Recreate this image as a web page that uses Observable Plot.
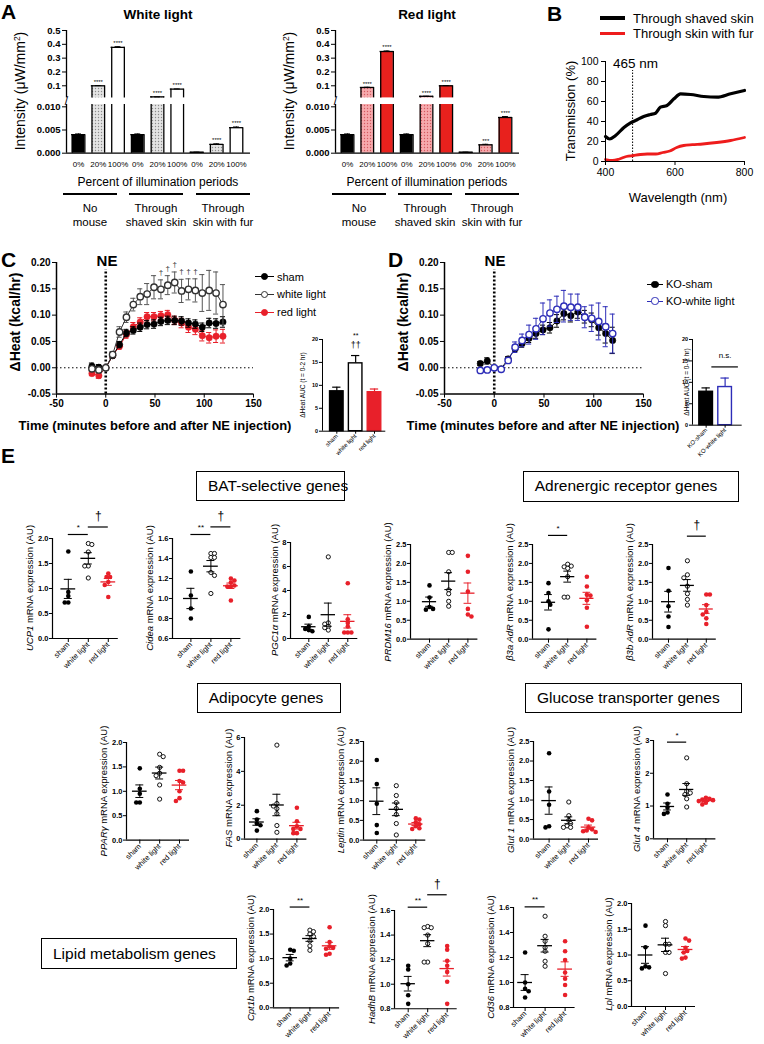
<!DOCTYPE html>
<html>
<head>
<meta charset="utf-8">
<script src="https://cdn.jsdelivr.net/npm/d3@7"></script>
<script src="https://cdn.jsdelivr.net/npm/@observablehq/plot@0.6"></script>
<style>
  html, body { margin: 0; padding: 0; background: #fff; }
  #root { position: relative; width: 764px; height: 1044px; overflow: hidden; background: #fff;
          font-family: "Liberation Sans", Arial, Helvetica, sans-serif; color: #000; }
  .t { position: absolute; white-space: nowrap; line-height: 1; }
  .box { position: absolute; border: 1.5px solid #000; box-sizing: border-box; font-size: 15.5px;
         display: flex; align-items: center; padding-left: 11px; white-space: nowrap; line-height: 1; }
  .ln { position: absolute; }
  sup { font-size: 0.6em; line-height: 0; vertical-align: 0.6em; }
</style>
</head>
<body>
<div id="root"></div>
<script>
// ======================= DATA =======================
// Panel A : light intensity (µW/mm²)
const pctLabels = ["0%", "20%", "100%", "0%", "20%", "100%", "0%", "20%", "100%"];
const groupNamesA = [["No", "mouse"], ["Through", "shaved skin"], ["Through", "skin with fur"]];
const whiteIntensity = [0.004, 0.1, 0.378, 0.004, 0.02, 0.076, 0.0002, 0.0019, 0.0055];
const whiteErr = [0.00015, 0.0015, 0.005, 0.00015, 0.0004, 0.0015, 0.00003, 0.00012, 0.00015];
const whiteStars = ["", "****", "****", "", "****", "****", "", "****", "****"];
const redIntensity = [0.004, 0.088, 0.348, 0.004, 0.024, 0.1, 0.0002, 0.0018, 0.0077];
const redErr = [0.00015, 0.0015, 0.004, 0.00015, 0.0005, 0.0015, 0.00003, 0.00012, 0.0002];
const redStars = ["", "****", "****", "", "****", "****", "", "***", "****"];

// Panel B : transmission (%)
const shavedNm = [400, 412, 429, 453, 472, 491, 510, 529, 544, 558, 577, 597, 616, 645, 683, 721, 760, 800];
const shavedT = [25, 22.5, 26, 34, 38.7, 41.7, 45, 47, 48.3, 54.3, 56, 62.7, 67.7, 67, 65, 64.3, 67.7, 71];
const furNm = [400, 420, 440, 460, 480, 500, 520, 545, 565, 585, 605, 625, 650, 680, 720, 760, 800];
const furT = [2, 1, 2.5, 5, 6, 7, 7.5, 7.5, 9, 10.5, 14, 16, 16.8, 17.5, 19, 21, 24];
const markerNm = 478;

// Panels C / D : ΔHeat (kcal/hr)
const times = [-14, -7, 0, 7, 14, 21, 28, 35, 42, 49, 56, 63, 70, 77, 84, 91, 98, 105, 112, 119];
const cSham = [0.003, 0.001, 0, 0.023, 0.044, 0.066, 0.071, 0.077, 0.082, 0.083, 0.088, 0.090, 0.090, 0.089, 0.085, 0.083, 0.077, 0.085, 0.084, 0.087];
const cShamErr = [0.006, 0.005, 0.002, 0.005, 0.006, 0.007, 0.007, 0.008, 0.008, 0.008, 0.008, 0.008, 0.008, 0.008, 0.008, 0.008, 0.008, 0.009, 0.009, 0.01];
const cWhite = [-0.002, -0.004, 0, 0.025, 0.068, 0.096, 0.120, 0.135, 0.140, 0.153, 0.149, 0.157, 0.162, 0.146, 0.149, 0.147, 0.142, 0.147, 0.142, 0.120];
const cWhiteErr = [0.004, 0.005, 0.002, 0.006, 0.01, 0.01, 0.012, 0.015, 0.02, 0.022, 0.018, 0.018, 0.02, 0.022, 0.02, 0.022, 0.035, 0.038, 0.04, 0.038];
const cRed = [-0.011, -0.015, 0, 0.023, 0.041, 0.063, 0.078, 0.087, 0.097, 0.097, 0.099, 0.101, 0.090, 0.085, 0.077, 0.073, 0.061, 0.057, 0.060, 0.060];
const cRedErr = [0.004, 0.005, 0.002, 0.005, 0.006, 0.007, 0.008, 0.008, 0.008, 0.008, 0.008, 0.008, 0.008, 0.009, 0.01, 0.01, 0.01, 0.01, 0.012, 0.013];
const cDaggerTimes = [56, 63, 70, 77, 84, 91];
const dSham = [0.008, 0.013, 0, -0.002, 0.017, 0.036, 0.046, 0.056, 0.065, 0.072, 0.076, 0.089, 0.103, 0.099, 0.106, 0.097, 0.091, 0.076, 0.065, 0.052];
const dShamErr = [0.004, 0.006, 0.002, 0.003, 0.004, 0.006, 0.007, 0.008, 0.009, 0.009, 0.01, 0.012, 0.012, 0.012, 0.012, 0.012, 0.013, 0.014, 0.018, 0.025];
const dWhite = [-0.005, -0.004, 0, -0.003, 0.014, 0.039, 0.052, 0.063, 0.074, 0.093, 0.104, 0.111, 0.117, 0.115, 0.115, 0.096, 0.094, 0.088, 0.078, 0.065];
const dWhiteErr = [0.003, 0.003, 0.002, 0.003, 0.004, 0.01, 0.012, 0.018, 0.02, 0.03, 0.025, 0.025, 0.03, 0.025, 0.025, 0.02, 0.025, 0.035, 0.038, 0.037];

// AUC insets
const aucCatsC = ["sham", "white light", "red light"];
const aucC = [8.7, 14.8, 8.5];
const aucCErr = [0.9, 1.7, 0.7];
const aucCatsD = ["KO-sham", "KO-white light"];
const aucD = [7.8, 8.9];
const aucDErr = [0.9, 2.1];

// Panel E : mRNA expression (AU), individual animals per group [sham, white light, red light]
const groups = ["sham", "white light", "red light"];
const UCP1 = [[1.74, 0.93, 0.85, 0.72, 0.72], [1.9, 1.88, 1.73, 1.45, 1.45, 1.21], [1.3, 1.23, 1.23, 1.13, 1.07, 0.83]];
const Cidea = [[1.27, 1.03, 0.9, 0.8], [1.45, 1.45, 1.41, 1.41, 1.26, 1.23, 1.05], [1.2, 1.18, 1.16, 1.13, 1.12, 1.12, 0.98]];
const PGC1a = [[1.8, 1.0, 0.8, 0.7, 0.6], [6.8, 1.3, 1.2, 1.0, 0.9, 0.7], [4.6, 1.6, 1.3, 1.0, 0.5, 0.5, 0.5]];
const PRDM16 = [[1.42, 1.1, 0.85, 0.8, 0.78], [2.29, 2.29, 1.78, 1.3, 1.2, 1.0, 0.87], [2.2, 1.78, 1.26, 0.8, 0.65, 0.6]];
const B3a = [[1.48, 1.22, 1.0, 0.91, 0.26], [1.98, 1.93, 1.91, 1.87, 1.65, 1.11, 1.11], [1.65, 1.39, 1.17, 1.15, 1.03, 0.83, 0.33]];
const B3b = [[1.88, 1.28, 0.87, 0.6, 0.32], [2.07, 1.7, 1.62, 1.4, 1.2, 1.05, 0.9], [1.18, 1.18, 0.9, 0.72, 0.65, 0.55, 0.4]];
const PPARg = [[1.47, 1.05, 0.95, 0.77, 0.77], [1.76, 1.71, 1.49, 1.37, 1.32, 1.13, 0.84], [1.42, 1.42, 1.21, 1.18, 1.0, 0.86, 0.8]];
const FAS = [[1.65, 1.15, 0.92, 0.82, 0.5], [5.55, 2.1, 1.95, 1.8, 1.5, 0.8, 0.4], [1.85, 1.05, 0.75, 0.6, 0.6, 0.35, 0.35]];
const Leptin = [[2.03, 1.42, 0.92, 0.38, 0.18], [1.38, 1.13, 0.95, 0.8, 0.65, 0.42, 0.13], [0.55, 0.52, 0.45, 0.4, 0.35, 0.3, 0.28]];
const Glut1 = [[2.2, 1.22, 0.88, 0.33, 0.3], [0.95, 0.6, 0.48, 0.4, 0.34, 0.3, 0.3], [0.52, 0.48, 0.3, 0.25, 0.22, 0.2, 0.18]];
const Glut4 = [[1.35, 1.07, 0.95, 0.8, 0.76], [2.47, 1.68, 1.45, 1.4, 1.35, 1.22, 0.97], [1.25, 1.22, 1.2, 1.18, 1.15, 1.1, 1.05]];
const Cpt1b = [[1.18, 1.16, 1.0, 0.9, 0.86], [1.58, 1.55, 1.5, 1.45, 1.36, 1.26, 1.17], [1.64, 1.34, 1.25, 1.22, 1.2, 1.1, 1.08]];
const HadhB = [[1.15, 1.12, 1.0, 0.91, 0.84], [1.47, 1.46, 1.46, 1.4, 1.33, 1.18, 1.18], [1.31, 1.28, 1.19, 1.15, 1.1, 1.02, 0.84]];
const Cd36 = [[1.24, 1.0, 0.95, 0.93, 0.88], [1.53, 1.37, 1.33, 1.28, 1.25, 1.17, 1.13], [1.33, 1.25, 1.18, 1.08, 1.03, 0.98, 0.9]];
const Lpl = [[1.57, 1.15, 0.78, 0.76, 0.74], [1.65, 1.57, 1.21, 1.21, 1.05, 1.05, 0.64], [1.32, 1.28, 1.14, 1.08, 1.05, 0.95, 0.93]];

// ======================= HELPERS =======================
const root = document.getElementById("root");
const FONT = '"Liberation Sans", Arial, Helvetica, sans-serif';
const RED = "#e8202a", BLUE = "#2d2db8";

function txt(html, x, y, o = {}) {
  const d = document.createElement("div");
  d.className = "t";
  d.innerHTML = html;
  d.style.left = x + "px";
  d.style.top = y + "px";
  d.style.fontSize = (o.size || 12) + "px";
  d.style.fontWeight = o.bold ? "bold" : "normal";
  if (o.color) d.style.color = o.color;
  let tr = o.anchor === "start" ? "translate(0,-50%)" : "translate(-50%,-50%)";
  if (o.rotate) tr += ` rotate(${o.rotate}deg)`;
  d.style.transform = tr;
  root.appendChild(d);
  return d;
}
function hline(xa, xb, y, w = 1.3, color = "#000") {
  const d = document.createElement("div");
  d.className = "ln";
  Object.assign(d.style, {left: xa + "px", top: (y - w / 2) + "px", width: (xb - xa) + "px", height: w + "px", background: color});
  root.appendChild(d);
}
function circ(cx, cy, r, fill, stroke) {
  const d = document.createElement("div");
  d.className = "ln";
  Object.assign(d.style, {left: (cx - r) + "px", top: (cy - r) + "px", width: 2 * r + "px", height: 2 * r + "px",
    borderRadius: "50%", boxSizing: "border-box", background: fill, border: `1.3px solid ${stroke}`});
  root.appendChild(d);
}
function box(text, x, y, w, h) {
  const d = document.createElement("div");
  d.className = "box";
  Object.assign(d.style, {left: x + "px", top: y + "px", width: w + "px", height: h + "px"});
  d.textContent = text;
  root.appendChild(d);
}
function plotAt(frame, m, opts, css = {}) {
  const [x0, y0, x1, y1] = frame, [mt, mr, mb, ml] = m;
  const svg = Plot.plot({
    width: x1 - x0 + ml + mr, height: y1 - y0 + mt + mb,
    marginTop: mt, marginRight: mr, marginBottom: mb, marginLeft: ml,
    ...opts,
    style: Object.assign({fontFamily: FONT, background: "transparent", overflow: "visible", color: "#000"}, css)
  });
  Object.assign(svg.style, {position: "absolute", left: (x0 - ml) + "px", top: (y0 - mt) + "px", maxWidth: "none"});
  root.appendChild(svg);
  return svg;
}
function axisText(svg, axis, css) {
  svg.querySelectorAll(`g[aria-label="${axis}-axis"] text, g[aria-label="${axis}-axis tick label"] text`)
    .forEach(t => Object.assign(t.style, css));
}

// ======================= PANEL A (broken y axis: two stacked plots) =======================
function panelA(fx0, title, vals, errs, stars, fills, pat) {
  const fx1 = fx0 + 184;
  const xLo = -0.61, xHi = 8.71, bw = 0.32, ext = 0.033;
  const data = vals.map((v, i) => ({i, v, e: errs[i], s: stars[i]}));
  const segs = [
    {upper: true, y0: 30, y1: 97.4, dom: [0.0125, 0.5], ticks: [0.1, 0.2, 0.3, 0.4, 0.5], fmt: d => d.toFixed(1)},
    {upper: false, y0: 104, y1: 152.7, dom: [0, 0.0105], ticks: [0, 0.005, 0.01], fmt: d => d.toFixed(3)}
  ];
  segs.forEach(seg => {
    const sd = data.filter(d => !seg.upper || d.v > seg.dom[0])
      .map(d => ({...d, lo: seg.upper ? seg.dom[0] : 0, hi: Math.min(d.v, seg.dom[1]), top: d.v <= seg.dom[1]}));
    const tops = sd.filter(d => d.top);
    const marks = [];
    for (const b of sd) {
      marks.push(Plot.rect([b], {x1: d => d.i - bw, x2: d => d.i + bw, y1: "lo", y2: "hi", fill: fills[b.i % 3]}));
    }
    marks.push(
      Plot.ruleX(sd, {x: d => d.i - bw, y1: "lo", y2: "hi", strokeWidth: 1.3}),
      Plot.ruleX(sd, {x: d => d.i + bw, y1: "lo", y2: "hi", strokeWidth: 1.3}),
      Plot.ruleY(tops, {y: "hi", x1: d => d.i - bw - ext, x2: d => d.i + bw + ext, strokeWidth: 1.3}),
      Plot.ruleX(tops, {x: "i", y1: "v", y2: d => d.v + d.e, strokeWidth: 1}),
      Plot.ruleY(tops, {y: d => d.v + d.e, x1: d => d.i - 0.15, x2: d => d.i + 0.15, strokeWidth: 1}),
      Plot.text(tops.filter(d => d.s), {x: "i", y: d => d.v + d.e, text: "s", dy: -3.5, fontSize: 6, fontWeight: "normal"}),
      Plot.ruleX([xLo], {strokeWidth: 1.3})
    );
    if (!seg.upper) {
      marks.push(Plot.ruleY([0], {strokeWidth: 1.3}),
        Plot.text(["/"], {x: xLo, y: seg.dom[1], text: d => d, fontSize: 12, dy: -3, fontWeight: "normal"}));
    }
    const svg = plotAt([fx0, seg.y0, fx1, seg.y1], [6, 6, 22, 50], {
      x: seg.upper ? {domain: [xLo, xHi], axis: null}
                   : {domain: [xLo, xHi], ticks: d3.range(9), tickFormat: i => pctLabels[i], tickSize: 0, tickPadding: 8, label: null},
      y: {domain: seg.dom, ticks: seg.ticks, tickFormat: seg.fmt, tickSize: 4, tickPadding: 2, label: null},
      marks
    }, {fontSize: "9.5px", fontWeight: "bold"});
    axisText(svg, "x", {fontWeight: "normal", fontSize: "8px"});
    if (!seg.upper) {
      const defs = d3.select(svg).insert("defs", ":first-child");
      const p = defs.append("pattern").attr("id", pat.id).attr("width", 3).attr("height", 3).attr("patternUnits", "userSpaceOnUse");
      p.append("rect").attr("width", 3).attr("height", 3).attr("fill", pat.bg);
      p.append("circle").attr("cx", 1.5).attr("cy", 1.5).attr("r", 0.7).attr("fill", pat.dot);
    }
  });

  txt(title, fx0 + 92, 15, {size: 13.5, bold: true});
  txt("Intensity (μW/mm<sup>2</sup>)", fx0 - 46, 91, {size: 14, rotate: -90});
  txt("Percent of illumination periods", fx0 + 92, 182, {size: 12});
  const spans = [[-3, 51], [63, 117], [130, 184]];
  spans.forEach(([a, b], k) => {
    hline(fx0 + a, fx0 + b, 194, 1.3);
    txt(groupNamesA[k][0], fx0 + (a + b) / 2, 209, {size: 11.5});
    txt(groupNamesA[k][1], fx0 + (a + b) / 2, 223, {size: 11.5});
  });
}
panelA(66, "White light", whiteIntensity, whiteErr, whiteStars, ["#000", "url(#patW)", "#fff"], {id: "patW", bg: "#e4e4e4", dot: "#8a8a8a"});
panelA(335, "Red light", redIntensity, redErr, redStars, ["#000", "url(#patR)", "#e8211d"], {id: "patR", bg: "#f6aaad", dot: "#d55a60"});

// ======================= PANEL B =======================
(function panelB() {
  const shaved = shavedNm.map((n, i) => ({n, t: shavedT[i]}));
  const fur = furNm.map((n, i) => ({n, t: furT[i]}));
  plotAt([605, 61, 744, 161], [12, 8, 22, 30], {
    x: {domain: [400, 800], ticks: [400, 600, 800], tickSize: 4, tickPadding: 3, label: null},
    y: {domain: [0, 100], ticks: [0, 20, 40, 60, 80, 100], tickSize: 4, tickPadding: 3, label: null},
    marks: [
      Plot.ruleX([markerNm], {y1: 0, y2: 91, strokeDasharray: "1.5,1.5", strokeWidth: 1}),
      Plot.line(fur, {x: "n", y: "t", stroke: "#ee1c1c", strokeWidth: 2.8, curve: "monotone-x"}),
      Plot.line(shaved, {x: "n", y: "t", stroke: "#000", strokeWidth: 3.2, curve: "monotone-x"}),
      Plot.ruleX([400], {strokeWidth: 1}),
      Plot.ruleY([0], {strokeWidth: 1}),
      Plot.text(["465 nm"], {x: markerNm, y: 100, text: d => d, fontSize: 13.5, dx: 3, dy: 2})
    ]
  }, {fontSize: "10.5px"});
  txt("Transmission (%)", 570, 111, {size: 13, rotate: -90});
  txt("Wavelength (nm)", 678, 197, {size: 13});
  hline(600, 625, 18, 3.2, "#000");
  hline(600, 625, 33, 3, "#ee1c1c");
  txt("Through shaved skin", 633, 18, {size: 13, anchor: "start"});
  txt("Through skin with fur", 633, 33, {size: 13, anchor: "start"});
})();

// ======================= PANELS C / D =======================
function timePanel(fx0, fx1, series, daggers) {
  const fy0 = 261.7, fy1 = 393.3;
  const marks = [
    Plot.ruleY([0], {strokeDasharray: "1.5,2.5", strokeWidth: 1}),
    Plot.ruleX([0], {y1: -0.05, y2: 0.186, strokeDasharray: "2,2", strokeWidth: 2.6})
  ];
  for (const s of series) {
    const d = times.map((t, i) => ({t, v: s.vals[i], e: s.errs[i]}));
    marks.push(
      Plot.ruleX(d, {x: "t", y1: q => q.v - q.e, y2: q => q.v + q.e, stroke: s.err, strokeWidth: 1}),
      Plot.ruleY(d, {y: q => q.v + q.e, x1: q => q.t - 2.6, x2: q => q.t + 2.6, stroke: s.err, strokeWidth: 1}),
      Plot.ruleY(d, {y: q => q.v - q.e, x1: q => q.t - 2.6, x2: q => q.t + 2.6, stroke: s.err, strokeWidth: 1}),
      Plot.line(d, {x: "t", y: "v", stroke: s.line, strokeWidth: 1}),
      Plot.dot(d, {x: "t", y: "v", r: 3.2, fill: s.open ? "#fff" : s.color, stroke: s.color, strokeWidth: s.open ? 1.4 : 0.5})
    );
    if (daggers && s.daggers) {
      const dd = d.filter(q => daggers.includes(q.t));
      marks.push(Plot.text(dd, {x: "t", y: q => q.v + q.e, text: () => "†", fontSize: 8, dy: -7.5, fontWeight: "normal", fill: "#333"}));
    }
  }
  marks.push(Plot.ruleX([-50], {strokeWidth: 1.5}), Plot.ruleY([-0.05], {strokeWidth: 1.5}));
  plotAt([fx0, fy0, fx1, fy1], [12, 8, 22, 36], {
    x: {domain: [-50, 150], ticks: [-50, 0, 50, 100, 150], tickFormat: d => String(d), tickSize: 4, tickPadding: 2, label: null},
    y: {domain: [-0.05, 0.2], ticks: [-0.05, 0, 0.05, 0.1, 0.15, 0.2], tickFormat: d => d.toFixed(2), tickSize: 4, tickPadding: 2, label: null},
    marks
  }, {fontSize: "10px", fontWeight: "bold"});
  txt("ΔHeat (kcal/hr)", fx0 - 41, 322, {size: 14, bold: true, rotate: -90});
  txt("NE", fx0 + 51, 260, {size: 15, bold: true});
  txt("Time (minutes before and after NE injection)", fx0 + 99, 425, {size: 13, bold: true});
}
timePanel(56, 253, [
  {vals: cRed, errs: cRedErr, color: RED, err: RED, line: RED},
  {vals: cSham, errs: cShamErr, color: "#000", err: "#000", line: "#000"},
  {vals: cWhite, errs: cWhiteErr, color: "#333", err: "#555", line: "#333", open: true, daggers: true}
], cDaggerTimes);
timePanel(444, 643, [
  {vals: dSham, errs: dShamErr, color: "#000", err: "#000", line: "#000"},
  {vals: dWhite, errs: dWhiteErr, color: BLUE, err: BLUE, line: BLUE, open: true}
]);

function legendItem(x0, y, color, open, text, len) {
  hline(x0, x0 + len, y, 1, color);
  circ(x0 + len / 2, y, 3.6, open ? "#fff" : color, color);
  txt(text, x0 + len + 3, y, {size: 11, anchor: "start"});
}
legendItem(255, 276.7, "#000", false, "sham", 19);
legendItem(255, 294.3, "#333", true, "white light", 19);
legendItem(255, 312.3, RED, false, "red light", 19);
legendItem(647, 284.3, "#000", false, "KO-sham", 16);
legendItem(647, 301, BLUE, true, "KO-white light", 16);

// AUC insets
function aucPanel(frame, xLo, xHi, cats, vals, errs, styles, notes) {
  const data = vals.map((v, i) => ({i, v, e: errs[i]}));
  const marks = [];
  for (const b of data) {
    const st = styles[b.i];
    marks.push(
      Plot.ruleX([b], {x: "i", y1: "v", y2: d => d.v + d.e, stroke: st.stroke, strokeWidth: 1.2}),
      Plot.ruleY([b], {y: d => d.v + d.e, x1: d => d.i - 0.22, x2: d => d.i + 0.22, stroke: st.stroke, strokeWidth: 1.2}),
      Plot.rect([b], {x1: d => d.i - 0.36, x2: d => d.i + 0.36, y1: 0, y2: "v", fill: st.fill, stroke: st.stroke, strokeWidth: 1.4})
    );
  }
  marks.push(Plot.ruleX([xLo], {strokeWidth: 1}), Plot.ruleY([0], {strokeWidth: 1}));
  for (const n of notes) {
    if (n.rule) marks.push(Plot.ruleY([n.y], {x1: n.a, x2: n.b, strokeWidth: 1.2}));
    marks.push(Plot.text([n.t], {x: n.x, y: n.y, text: d => d, fontSize: n.size, dy: n.dy, fontWeight: "normal"}));
  }
  const svg = plotAt(frame, [10, 4, 28, 16], {
    x: {domain: [xLo, xHi], ticks: d3.range(cats.length), tickFormat: i => cats[i], tickRotate: -45, tickSize: 3, tickPadding: 1, label: null},
    y: {domain: [0, 20], ticks: [0, 5, 10, 15, 20], tickSize: 3, tickPadding: 1.5, label: null},
    marks
  }, {fontSize: "5.5px", fontWeight: "bold"});
  axisText(svg, "x", {fontWeight: "normal", fontSize: "6px"});
}
aucPanel([321.7, 339, 385, 430.7], -0.76, 2.6, aucCatsC, aucC, aucCErr,
  [{fill: "#000", stroke: "#000"}, {fill: "#fff", stroke: "#000"}, {fill: RED, stroke: RED}],
  [{t: "**", x: 1, y: aucC[1] + aucCErr[1], size: 7, dy: -19.8}, {t: "††", x: 1, y: aucC[1] + aucCErr[1], size: 9, dy: -10.5}]);
txt("ΔHeat AUC (t = 0-2 hr)", 303, 385, {size: 6.5, rotate: -90});
aucPanel([692.3, 339.3, 742, 425], -0.72, 1.9, aucCatsD, aucD, aucDErr,
  [{fill: "#000", stroke: "#000"}, {fill: "#fff", stroke: BLUE}],
  [{t: "n.s.", x: 1.0, a: 0.3, b: 1.7, y: 13.6, size: 8, dy: -11, rule: true}]);
txt("ΔHeat AUC (t = 0- 2 hr)", 686.7, 382, {size: 6.5, rotate: -90});

// ======================= PANEL E =======================
// compact beeswarm: each point takes the closest free horizontal slot (overlap allowed, like Prism)
function swarm(vals, ppu, r) {
  const s = [...vals].sort((a, b) => b - a);
  const D = 1.55 * r;
  const placed = [];
  for (const v of s) {
    const y = v * ppu;
    let best = null;
    for (let k = 0; k < 40 && best === null; k++) {
      const cands = k === 0 ? [0] : (placed.length % 2 ? [k * D / 2, -k * D / 2] : [-k * D / 2, k * D / 2]);
      for (const dx of cands) {
        if (placed.every(p => Math.hypot(p.dx - dx, p.y - y) >= D)) { best = dx; break; }
      }
    }
    placed.push({v, y, dx: best});
  }
  return placed;
}
function dotPlot(c) {
  const r = 2.3;
  const xLo = -(c.cat0 - c.axisX) / c.sp, xHi = 2 + 10 / c.sp;
  const x1 = c.axisX + (xHi - xLo) * c.sp;
  const ppu = (c.yBot - c.yTop) / (c.dom[1] - c.dom[0]);
  const dec = c.ticks.every(Number.isInteger) ? 0 : 1;
  const marks = [Plot.ruleX([xLo], {strokeWidth: 1.2}), Plot.ruleY([c.dom[0]], {strokeWidth: 1.2})];
  c.data.forEach((vals, g) => {
    const col = g === 2 ? RED : "#000";
    const mean = d3.mean(vals), se = d3.deviation(vals) / Math.sqrt(vals.length);
    const pts = swarm(vals, ppu, r).map(p => ({x: g + p.dx / c.sp, v: p.v}));
    marks.push(
      Plot.dot(pts, {x: "x", y: "v", r: g === 1 ? 2.1 : r, fill: g === 1 ? "#fff" : col, stroke: g === 1 ? "#111" : "none", strokeWidth: 1}),
      Plot.ruleX([g], {y1: mean - se, y2: mean + se, stroke: col, strokeWidth: 1}),
      Plot.ruleY([mean - se, mean + se], {x1: g - 0.2, x2: g + 0.2, stroke: col, strokeWidth: 1}),
      Plot.ruleY([mean], {x1: g - 0.37, x2: g + 0.37, stroke: col, strokeWidth: 1.3})
    );
  });
  (c.sig || []).forEach(s => {
    const dag = s.t.includes("†");
    marks.push(
      Plot.ruleY([s.y], {x1: s.a, x2: s.b, strokeWidth: 1.2}),
      Plot.text([s.t], {x: (s.a + s.b) / 2, y: s.y, text: d => d, fontSize: dag ? 12 : 8, dy: dag ? -11 : -7, fontWeight: "normal"})
    );
  });
  const svg = plotAt([c.axisX, c.yTop, x1, c.yBot], [40, 6, 45, 34], {
    x: {domain: [xLo, xHi], ticks: [0, 1, 2], tickFormat: i => groups[i], tickRotate: -45, tickSize: 4, tickPadding: 1, label: null},
    y: {domain: c.dom, ticks: c.ticks, tickFormat: d => d.toFixed(dec), tickSize: 3, tickPadding: 1, label: null},
    marks
  }, {fontSize: "7.5px", fontWeight: "bold"});
  axisText(svg, "x", {fontWeight: "normal", fontSize: "7.5px"});
  const labX = c.axisX - (dec ? 22 : 15.5);
  txt(`<i>${c.gene}</i> mRNA expression (AU)`, labX, (c.yTop + c.yBot) / 2, {size: 9.5, rotate: -90});
}
const t2 = [0, 0.5, 1, 1.5, 2], t25 = [0, 0.5, 1, 1.5, 2, 2.5], t16 = [0.8, 1, 1.2, 1.4, 1.6];
const ePanels = [
  {gene: "UCP1", data: UCP1, dom: [0, 2], ticks: t2, axisX: 51.7, cat0: 67.5, sp: 20, yTop: 538.3, yBot: 638.3,
   sig: [{a: 0, b: 1, y: 2.08, t: "*"}, {a: 1, b: 2, y: 2.23, t: "†"}]},
  {gene: "Cidea", data: Cidea, dom: [0.6, 1.6], ticks: [0.6, 0.8, 1, 1.2, 1.4, 1.6], axisX: 172.3, cat0: 190.7, sp: 20, yTop: 538.3, yBot: 638.3,
   sig: [{a: 0, b: 1, y: 1.64, t: "**"}, {a: 1, b: 2, y: 1.716, t: "†"}]},
  {gene: "PGC1α", data: PGC1a, dom: [0, 8], ticks: [0, 2, 4, 6, 8], axisX: 290, cat0: 308.3, sp: 19.5, yTop: 542.3, yBot: 638.3},
  {gene: "PRDM16", data: PRDM16, dom: [0, 2.5], ticks: t25, axisX: 410, cat0: 429, sp: 19.2, yTop: 544.3, yBot: 639},
  {gene: "β3a AdR", data: B3a, dom: [0, 2.5], ticks: t25, axisX: 532.3, cat0: 548.3, sp: 19.2, yTop: 544.3, yBot: 639,
   sig: [{a: 0, b: 1, y: 2.74, t: "*"}]},
  {gene: "β3b AdR", data: B3b, dom: [0, 2.5], ticks: t25, axisX: 652.3, cat0: 668.3, sp: 18.9, yTop: 544.3, yBot: 639,
   sig: [{a: 1, b: 2, y: 2.72, t: "†"}]},
  {gene: "PPARγ", data: PPARg, dom: [0, 2], ticks: t2, axisX: 126, cat0: 139.3, sp: 19.85, yTop: 741.7, yBot: 839.3},
  {gene: "FAS", data: FAS, dom: [0, 6], ticks: [0, 2, 4, 6], axisX: 244.3, cat0: 256.7, sp: 20, yTop: 736.7, yBot: 838.3},
  {gene: "Leptin", data: Leptin, dom: [0, 2.5], ticks: t25, axisX: 362.7, cat0: 376, sp: 19.5, yTop: 740.7, yBot: 839.3},
  {gene: "Glut 1", data: Glut1, dom: [0, 2.5], ticks: t25, axisX: 532.7, cat0: 548.3, sp: 19.7, yTop: 740.7, yBot: 838.3},
  {gene: "Glut 4", data: Glut4, dom: [0, 3], ticks: [0, 1, 2, 3], axisX: 652.7, cat0: 666.7, sp: 19.2, yTop: 740, yBot: 838.3,
   sig: [{a: 0, b: 1, y: 2.95, t: "*"}]},
  {gene: "Cpt1b", data: Cpt1b, dom: [0, 2], ticks: t2, axisX: 273.3, cat0: 290, sp: 19.7, yTop: 909, yBot: 1007.3,
   sig: [{a: 0, b: 1, y: 2.05, t: "**"}]},
  {gene: "HadhB", data: HadhB, dom: [0.8, 1.6], ticks: t16, axisX: 394, cat0: 407.7, sp: 19.5, yTop: 910, yBot: 1008.3,
   sig: [{a: 0, b: 1, y: 1.627, t: "**"}, {a: 1, b: 2, y: 1.728, t: "†"}]},
  {gene: "Cd36", data: Cd36, dom: [0.8, 1.6], ticks: t16, axisX: 512.7, cat0: 524.3, sp: 20, yTop: 907.3, yBot: 1007.3,
   sig: [{a: 0, b: 1, y: 1.605, t: "**"}]},
  {gene: "Lpl", data: Lpl, dom: [0, 2], ticks: t2, axisX: 631, cat0: 645, sp: 20, yTop: 902.7, yBot: 1005.7}
];
ePanels.forEach(dotPlot);

box("BAT-selective genes", 196, 470.7, 149, 30);
box("Adrenergic receptor genes", 522.7, 470.7, 216.6, 31);
box("Adipocyte genes", 196.7, 682.7, 144, 30.6);
box("Glucose transporter genes", 525, 682.7, 217.3, 30.6);
box("Lipid metabolism genes", 41, 938.3, 196.3, 30.7);

// panel letters
txt("A", 1, 10.5, {size: 21, bold: true, anchor: "start"});
txt("B", 547, 12.5, {size: 21, bold: true, anchor: "start"});
txt("C", 1, 259, {size: 21, bold: true, anchor: "start"});
txt("D", 388, 259, {size: 21, bold: true, anchor: "start"});
txt("E", 1, 455, {size: 21, bold: true, anchor: "start"});
</script>
</body>
</html>
